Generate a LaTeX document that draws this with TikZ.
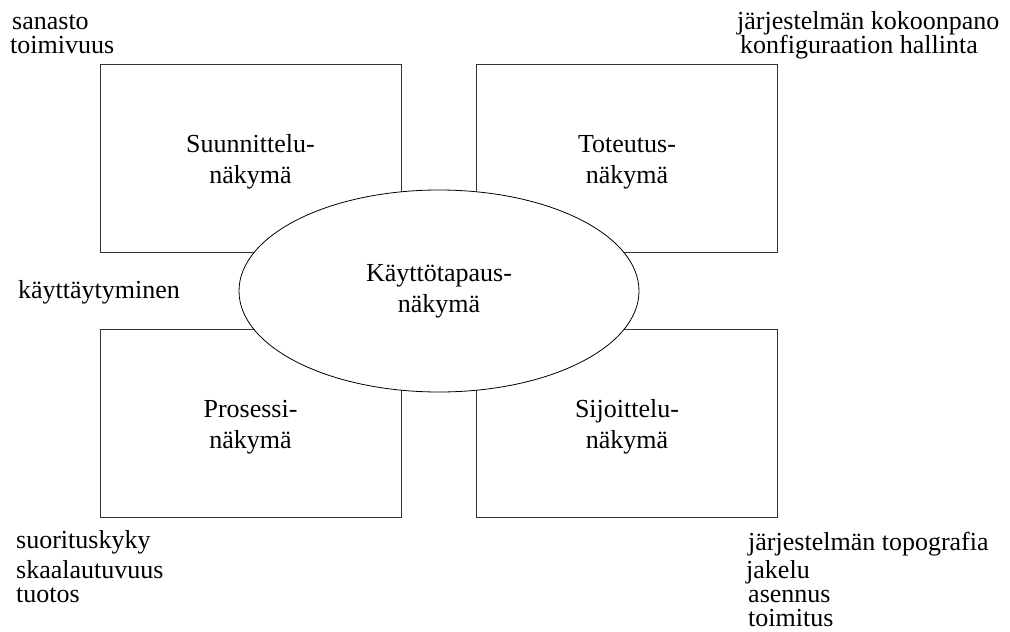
\documentclass[tikz,border=0pt]{standalone}
\usepackage{fontspec}
\setmainfont{Liberation Serif}
\usetikzlibrary{shapes.geometric}
\begin{document}
\begin{tikzpicture}[x=1pt,y=-1pt,
  viewbox/.style={draw=black!80,line width=1pt,rectangle,minimum width=301pt,minimum height=188pt,inner sep=0pt},
  viewname/.style={align=center,inner sep=0pt,font=\fontsize{26}{31}\selectfont},
  hub/.style={draw=black,line width=0.8pt,ellipse,fill=white,minimum width=400pt,minimum height=202pt,
    align=center,inner sep=0pt,font=\fontsize{26}{31}\selectfont},
  note/.style={anchor=base west,inner sep=0pt,font=\fontsize{26}{31}\selectfont}]
\useasboundingbox (0,0) rectangle (1010,632);
\fill[white] (0,0) rectangle (1010,632);

% the four views
\node[viewbox] (design)  at (250.5,158) {};
\node[viewbox] (impl)    at (627,158)   {};
\node[viewbox] (process) at (250.5,423) {};
\node[viewbox] (deploy)  at (627,423)   {};
\node[viewname] (design-t)  at ([yshift=-4pt]design.center)  {Suunnittelu-\\näkymä};
\node[viewname] (impl-t)    at ([yshift=-4pt]impl.center)    {Toteutus-\\näkymä};
\node[viewname] (process-t) at ([yshift=-4pt]process.center) {Prosessi-\\näkymä};
\node[viewname] (deploy-t)  at ([yshift=-4pt]deploy.center)  {Sijoittelu-\\näkymä};

% use-case view in the middle, over the boxes
\node[hub] (usecase) at (439,291) {Käyttötapaus-\\näkymä};

% concerns of each view
\node[note] (n1) at (12,29)  {sanasto};
\node[note] (n2) at (10,53)  {toimivuus};
\node[note] (n3) at (737,29) {järjestelmän kokoonpano};
\node[note] (n4) at (740,53) {konfiguraation hallinta};
\node[note] (n5) at (18,298) {käyttäytyminen};
\node[note] (n6) at (16,548) {suorituskyky};
\node[note] (n7) at (16,578) {skaalautuvuus};
\node[note] (n8) at (16,602) {tuotos};
\node[note] (n9)  at (748,550) {järjestelmän topografia};
\node[note] (n10) at (746,578) {jakelu};
\node[note] (n11) at (748,602) {asennus};
\node[note] (n12) at (748,626) {toimitus};
\end{tikzpicture}
\end{document}
